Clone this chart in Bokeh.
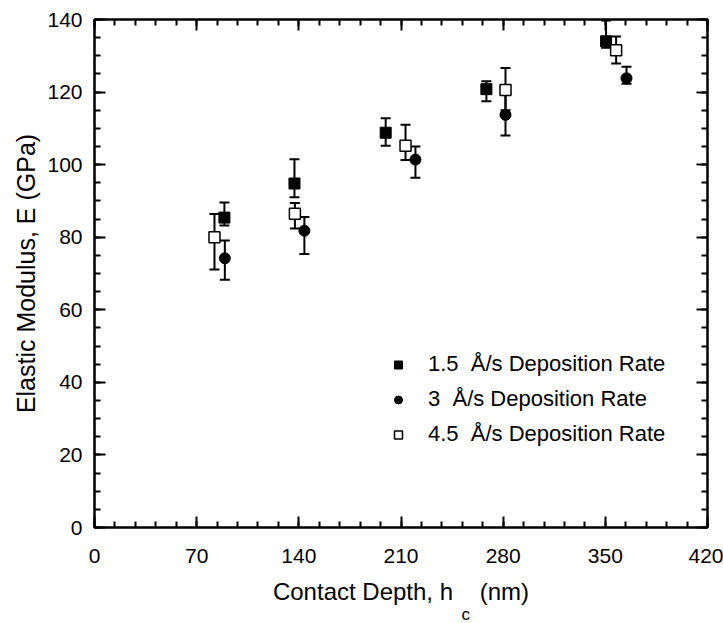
from bokeh.plotting import figure
from bokeh.models import (FixedTicker, LinearAxis, Whisker, ColumnDataSource, TeeHead,
                          Legend, LegendItem, Range1d, CustomJSTickFormatter, Title)
from bokeh.embed import file_html
from bokeh.resources import INLINE

# ---- data ----
x_ticks = [0, 70, 140, 210, 280, 350, 420]
x_minor = list(range(0, 421, 14))
y_ticks = [0, 20, 40, 60, 80, 100, 120, 140]
y_minor = list(range(0, 141, 5))

r15_depth = [89.0, 137.0, 199.5, 268.5, 350.5]
r15_E = [85.4, 94.8, 108.8, 120.8, 134.0]
r15_hi = [89.6, 101.5, 112.8, 123.0, 139.7]
r15_lo = [83.2, 91.0, 105.2, 117.5, 132.2]

r3_depth = [89.3, 143.8, 219.9, 281.6, 364.5]
r3_E = [74.2, 81.8, 101.4, 113.7, 123.8]
r3_hi = [79.1, 85.6, 105.0, 119.5, 127.0]
r3_lo = [68.3, 75.4, 96.4, 108.0, 122.3]

r45_depth = [82.2, 137.3, 213.1, 281.6, 357.4]
r45_E = [80.0, 86.5, 105.2, 120.6, 131.5]
r45_hi = [86.4, 89.4, 111.0, 126.6, 135.3]
r45_lo = [71.1, 82.4, 101.3, 115.0, 127.9]

labels = ["1.5  Å/s Deposition Rate", "3  Å/s Deposition Rate", "4.5  Å/s Deposition Rate"]
x_title = "Contact Depth, h\u00a0\u00a0\u00a0\u00a0(nm)"
x_sub = "c"
y_title = "Elastic Modulus, E (GPa)"

SANS = "Liberation Sans"

p = figure(frame_width=613, frame_height=508, x_range=Range1d(0, 420), y_range=Range1d(0, 140),
           output_backend="svg", toolbar_location=None,
           min_border_left=94, min_border_right=16, min_border_top=19, min_border_bottom=96)
p.xgrid.visible = False
p.ygrid.visible = False
p.outline_line_color = "black"
p.outline_line_width = 2
p.background_fill_color = "white"
p.border_fill_color = "white"


def style(ax, ticks, minor):
    ax.ticker = FixedTicker(ticks=ticks, minor_ticks=minor)
    ax.axis_line_color = "black"
    ax.axis_line_width = 2
    ax.major_tick_in = 11
    ax.major_tick_out = 0
    ax.minor_tick_in = 6
    ax.minor_tick_out = 0
    ax.major_tick_line_width = 2
    ax.minor_tick_line_width = 2
    ax.major_tick_line_color = "black"
    ax.minor_tick_line_color = "black"
    ax.major_label_text_color = "black"


xa = p.xaxis[0]
style(xa, x_ticks, x_minor)
xa.major_label_text_font = SANS
xa.major_label_text_font_size = "21px"
xa.major_label_standoff = 21
xa.axis_label = x_title
xa.axis_label_text_font = SANS
xa.axis_label_text_font_size = "24px"
xa.axis_label_text_font_style = "normal"
xa.axis_label_text_color = "black"
xa.axis_label_standoff = 12

ya = p.yaxis[0]
style(ya, y_ticks, y_minor)
ya.major_label_text_font = SANS
ya.major_label_text_font_size = "21px"
ya.major_label_standoff = 12
ya.axis_label = y_title
ya.axis_label_text_font = SANS
ya.axis_label_text_font_size = "25px"
ya.axis_label_text_font_style = "normal"
ya.axis_label_text_color = "black"
ya.axis_label_standoff = 4

blank = CustomJSTickFormatter(code="return ''")
top = LinearAxis(formatter=blank)
style(top, x_ticks, x_minor)
top.major_label_standoff = 0
p.add_layout(top, "above")
right = LinearAxis(formatter=blank)
style(right, y_ticks, y_minor)
right.major_label_standoff = 0
p.add_layout(right, "right")

# subscript "c" of h_c, placed under the gap left in the axis title
sub = Title(text=x_sub, align="left", offset=367, standoff=-9,
            text_font=SANS, text_font_size="17px", text_font_style="normal",
            text_color="black")
p.add_layout(sub, "below")


def add_err(xs, lo, hi):
    src = ColumnDataSource(dict(x=xs, lo=lo, hi=hi))
    w = Whisker(source=src, base="x", lower="lo", upper="hi", dimension="height",
                line_color="black", line_width=2,
                upper_head=TeeHead(size=10, line_width=2, line_color="black"),
                lower_head=TeeHead(size=10, line_width=2, line_color="black"))
    w.level = "underlay"
    p.add_layout(w)


add_err(r15_depth, r15_lo, r15_hi)
add_err(r3_depth, r3_lo, r3_hi)
add_err(r45_depth, r45_lo, r45_hi)

s1 = p.scatter(r15_depth, r15_E, marker="square", size=11, fill_color="black", line_color="black")
s2 = p.scatter(r3_depth, r3_E, marker="circle", size=11, fill_color="black", line_color="black")
s3 = p.scatter(r45_depth, r45_E, marker="square", size=11, fill_color="white", line_color="black",
               line_width=1.5)

legend = Legend(items=[LegendItem(label=labels[0], renderers=[s1]),
                       LegendItem(label=labels[1], renderers=[s2]),
                       LegendItem(label=labels[2], renderers=[s3])],
                location=(294, 80))
legend.label_text_font = SANS
legend.label_text_font_size = "22px"
legend.label_text_color = "black"
legend.glyph_width = 20
legend.glyph_height = 25
legend.label_height = 25
legend.spacing = 9
legend.padding = 0
legend.margin = 0
legend.label_standoff = 20
legend.border_line_color = None
legend.background_fill_alpha = 0
p.add_layout(legend)

open("out.html", "w").write(file_html(p, INLINE))
